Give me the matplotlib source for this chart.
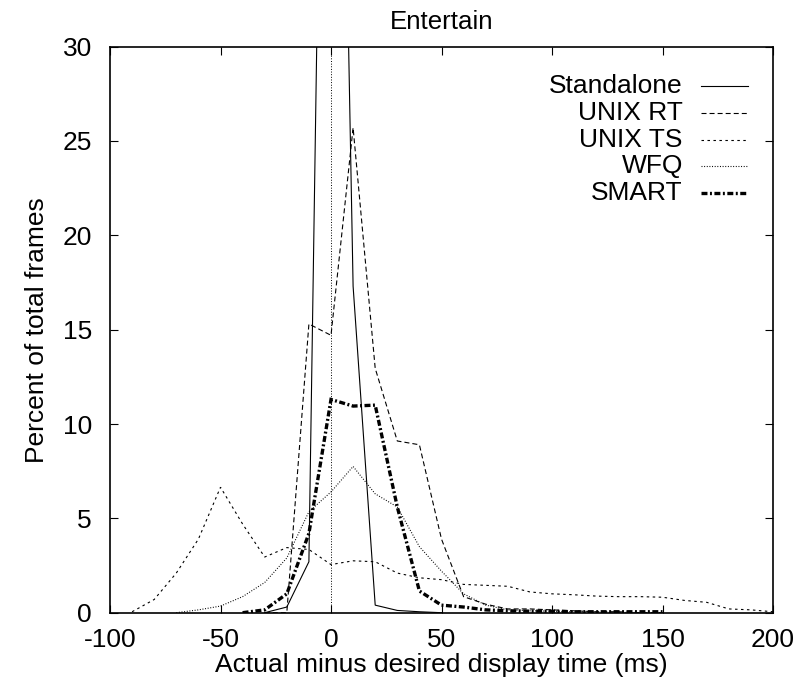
import matplotlib
matplotlib.use("Agg")
import matplotlib.pyplot as plt
from matplotlib.lines import Line2D

# frame-timing histogram, 10 ms bins (percent of frames)
standalone_x = [-30, -20, -10, 0, 10, 20, 30, 40, 50]
standalone_y = [0.0, 0.3, 2.7, 80.0, 17.3, 0.4, 0.12, 0.05, 0.0]

unix_rt_x = [-30, -20, -10, 0, 10, 20, 30, 40, 50, 60, 70, 80, 90, 100, 110, 120, 130, 140, 150]
unix_rt_y = [0.0, 0.0, 15.3, 14.7, 25.7, 12.95, 9.1, 8.9, 3.9, 0.85, 0.45, 0.2, 0.2, 0.15, 0.1,
             0.05, 0.05, 0.0, 0.0]

unix_ts_x = [-90, -80, -70, -60, -50, -40, -30, -20, -10, 0, 10, 20, 30, 40, 50, 60, 70, 80, 90,
             100, 110, 120, 130, 140, 150, 160, 170, 180, 190, 200]
unix_ts_y = [0.05, 0.7, 2.1, 3.9, 6.65, 4.7, 2.95, 3.45, 3.35, 2.55, 2.75, 2.7, 2.1, 1.85, 1.75,
             1.5, 1.45, 1.4, 1.1, 1.0, 0.95, 0.88, 0.85, 0.85, 0.82, 0.65, 0.55, 0.2, 0.15, 0.05]

wfq_x = [-70, -60, -50, -40, -30, -20, -10, 0, 10, 20, 30, 40, 50, 60, 70, 80, 90, 100, 110,
         120, 130, 140, 150]
wfq_y = [0.0, 0.15, 0.35, 0.85, 1.6, 2.9, 5.35, 6.4, 7.75, 6.3, 5.6, 3.5, 2.2, 1.0, 0.4, 0.15,
         0.1, 0.08, 0.05, 0.03, 0.02, 0.0, 0.0]

smart_x = [-40, -30, -20, -10, 0, 10, 20, 30, 40, 50, 60, 70, 80, 90, 100, 110, 120, 130, 140, 150]
smart_y = [0.0, 0.15, 1.0, 4.2, 11.3, 10.95, 11.0, 5.6, 1.15, 0.4, 0.3, 0.15, 0.1, 0.08, 0.08,
           0.05, 0.05, 0.05, 0.05, 0.05]

x_ticks = [-100, -50, 0, 50, 100, 150, 200]
y_ticks = [0, 5, 10, 15, 20, 25, 30]

plt.rcParams["font.family"] = ["Liberation Sans", "DejaVu Sans"]
plt.rcParams["font.size"] = 19
plt.rcParams["lines.scale_dashes"] = False

# (label, x, y, linewidth, dash pattern in points)
SERIES = [
    ("Standalone", standalone_x, standalone_y, 0.8, None),
    ("UNIX RT", unix_rt_x, unix_rt_y, 0.8, (0, (3.6, 2.2))),
    ("UNIX TS", unix_ts_x, unix_ts_y, 0.8, (0, (1.8, 2.5))),
    ("WFQ", wfq_x, wfq_y, 0.8, (0, (0.7, 1.2))),
    ("SMART", smart_x, smart_y, 2.4, (0, (4.3, 1.8, 1.4, 1.8))),
]

fig = plt.figure(figsize=(7.99, 6.84), dpi=100)
ax = fig.add_axes([110 / 799, 1 - 612.7 / 684, 663 / 799, 566.1 / 684])

ax.axvline(0, color="black", lw=0.7, ls=(0, (0.7, 1.2)))

for label, xs, ys, lw, dash in SERIES:
    kw = dict(color="black", lw=lw, solid_joinstyle="miter", dash_joinstyle="miter")
    if dash is not None:
        kw["ls"] = dash
    ax.plot(xs, ys, **kw)

ax.set_xlim(-100, 200)
ax.set_ylim(0, 30)
ax.set_xticks(x_ticks)
ax.set_xticklabels([str(v) for v in x_ticks])
ax.set_yticks(y_ticks)
ax.set_yticklabels([str(v) for v in y_ticks])
ax.tick_params(direction="in", length=5.8, width=0.8, top=True, right=True)
ax.tick_params(axis="y", pad=13)
ax.tick_params(axis="x", pad=11)
for s in ax.spines.values():
    s.set_linewidth(1.2)

ax.set_xlabel("Actual minus desired display time (ms)", labelpad=1)
ax.set_ylabel("Percent of total frames", labelpad=10)
ax.set_title("Entertain", pad=13, fontsize=18.6)

# gnuplot-style key: right-aligned labels with line samples after them
for i, (label, xs, ys, lw, dash) in enumerate(SERIES):
    yk = 0.93 - i * 0.0472
    ax.text(0.864, yk, label, transform=ax.transAxes, ha="right", va="center")
    kw = dict(color="black", lw=lw, transform=ax.transAxes)
    if dash is not None:
        kw["ls"] = dash
    ax.add_line(Line2D([0.891, 0.962], [yk, yk], **kw))

fig.savefig("out.png", dpi=100)
